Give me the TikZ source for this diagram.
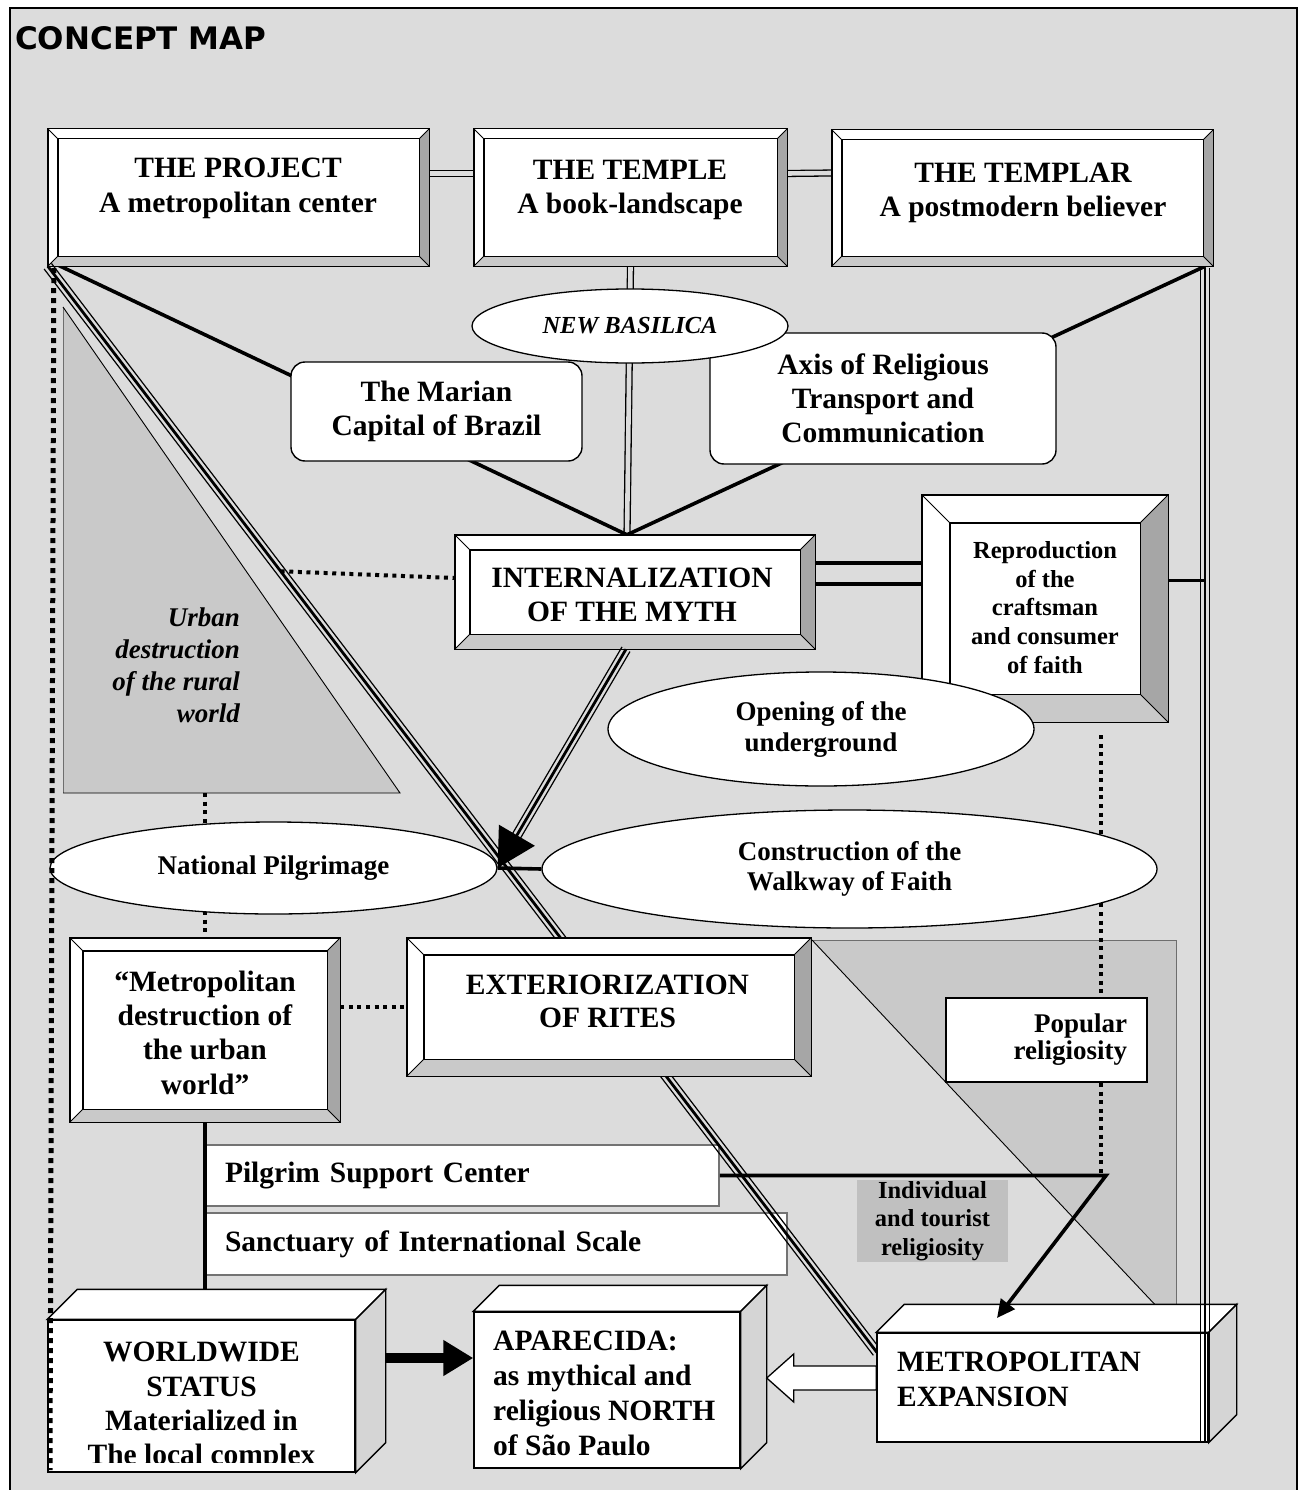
\documentclass[tikz,border=0pt]{standalone}
\usepackage{fontspec}
\setmainfont{Liberation Serif}
\newfontfamily\headfont{DejaVu Sans}
\usetikzlibrary{calc,arrows.meta,shapes.geometric}

\definecolor{bggray}{RGB}{220,220,220}
\definecolor{shadegray}{RGB}{201,201,201}
\definecolor{bevdark}{RGB}{166,166,166}
\definecolor{bevlight}{RGB}{201,201,201}
\definecolor{sidegray}{RGB}{213,213,213}
\definecolor{tagray}{RGB}{192,192,192}
\definecolor{edgegray}{RGB}{110,110,110}

\pgfdeclarelayer{bg}
\pgfdeclarelayer{under}
\pgfsetlayers{bg,under,main}

% bevelled frame round the rectangular node #1, bevel width #2
\newcommand\bevelframe[2]{%
  \fill[bevdark] (#1.north east) -- (#1.south east) -- ++(-#2,-#2) -- ($(#1.north east)+(-#2,#2)$) -- cycle;
  \fill[bevlight] (#1.south west) -- (#1.south east) -- ++(-#2,-#2) -- ($(#1.south west)+(#2,-#2)$) -- cycle;
  \draw[frameline] ($(#1.north west)+(#2,#2)$) rectangle ($(#1.south east)+(-#2,-#2)$);
  \draw[cornerline] (#1.north west) -- ++(#2,#2) (#1.north east) -- ++(-#2,#2)
        (#1.south west) -- ++(#2,-#2) (#1.south east) -- ++(-#2,-#2);
  \draw[frameline] (#1.north west) rectangle (#1.south east);}

% top and side faces of a block whose front face is node #1, depth #2
\newcommand\blockfaces[2]{%
  \filldraw[fill=white, frameline] (#1.north west) -- ++(#2,-#2) -- ($(#1.north east)+(#2,-#2)$) -- (#1.north east) -- cycle;
  \filldraw[fill=sidegray, frameline] (#1.north east) -- ++(#2,-#2) -- ($(#1.south east)+(#2,-#2)$) -- (#1.south east) -- cycle;}

% thin-thick-thin connector from #2 to #3
\newcommand\triline[3][]{%
  \draw[line width=1.2pt,#1] ($(#2)!4.6pt!90:(#3)$) -- ($(#3)!4.6pt!-90:(#2)$);
  \draw[line width=1.2pt,#1] ($(#2)!4.6pt!-90:(#3)$) -- ($(#3)!4.6pt!90:(#2)$);
  \draw[line width=2.8pt] (#2) -- (#3);}

\begin{document}
\begin{tikzpicture}[x=1pt, y=-1pt,
  frameline/.style={line width=1.4pt},
  cornerline/.style={line width=0.9pt},
  bevelbox/.style={rectangle, fill=white, inner sep=0pt},
  frontbox/.style={rectangle, fill=white, draw, line width=1.4pt, inner sep=0pt},
  plainbox/.style={rectangle, fill=white, draw, line width=1.3pt, inner ysep=0pt, inner xsep=20pt},
  softbox/.style={rectangle, rounded corners=14pt, fill=white, draw, line width=1.4pt, inner sep=0pt, align=center, font=\bfseries\fontsize{29.5}{34}\selectfont},
  oval/.style={ellipse, fill=white, draw, line width=1.3pt, inner sep=0pt, align=center, font=\bfseries\fontsize{27}{31}\selectfont},
  boxtext/.style={inner sep=0pt, align=center, font=\bfseries\fontsize{29.5}{34.5}\selectfont},
  link/.style={line width=3.6pt},
  twin/.style={double=bggray, double distance=4.6pt, line width=1.3pt},
  dotline/.style={line width=4pt, dash pattern=on 4pt off 4.6pt},
]
\useasboundingbox (0,0) rectangle (1299,1490);

% page, frame and shaded wedges
\begin{pgfonlayer}{bg}
  \fill[white] (0,0) rectangle (1299,1490);
  \fill[bggray] (10,8) rectangle (1297,1490);
  \draw[line width=1.6pt] (10,1490) -- (10,8) -- (1297,8) -- (1297,1490);
  \fill[shadegray] (63,307) -- (63,793) -- (400,793) -- cycle;
  \draw[line width=0.9pt, edgegray] (63,307) -- (63,793);
  \draw[line width=0.9pt] (63,793) -- (400,793) -- (63,307);
  \fill[shadegray] (812,940) -- (1176,940) -- (1176,1327) -- cycle;
  \draw[line width=0.9pt, edgegray] (812,940) -- (1176,940) -- (1176,1327);
  \draw[line width=0.9pt] (812,940) -- (1176,1327);
\end{pgfonlayer}

\node[anchor=base west, inner sep=0pt, font=\headfont\bfseries\fontsize{31}{36}\selectfont] (title) at (15,50) {CONCEPT MAP};

% top row
\node[bevelbox, minimum width=381pt, minimum height=137pt] (project) at (238.5,197.5) {};
\bevelframe{project}{10}
\node[boxtext] (project-t) at (238,188.5) {THE PROJECT\\A metropolitan center};

\node[bevelbox, minimum width=313pt, minimum height=137pt] (temple) at (630.5,197.5) {};
\bevelframe{temple}{10}
\node[boxtext] (temple-t) at (630,190) {THE TEMPLE\\A book-landscape};

\node[bevelbox, minimum width=381pt, minimum height=136pt] (templar) at (1022.5,198) {};
\bevelframe{templar}{10}
\node[boxtext] (templar-t) at (1023,193) {THE TEMPLAR\\A postmodern believer};

% internalization
\node[bevelbox, minimum width=360pt, minimum height=114pt] (myth) at (635,592) {};
\bevelframe{myth}{15}
\node[boxtext] (myth-t) at (632,595) {INTERNALIZATION\\OF THE MYTH};

\coordinate (apex) at ($(myth.north)+(-8,0)$);
\coordinate (project-corner) at ($(project.south west)+(2,-5)$);
\coordinate (templar-corner) at ($(templar.south east)+(-8,0)$);
\begin{pgfonlayer}{under}
  \draw[twin] ($(project.east)+(0,-24)$) -- ($(temple.west)+(0,-24)$);
  \draw[twin] ($(temple.east)+(0,-24)$) -- ($(templar.west)+(0,-25)$);
  \draw[twin] (temple.south) -- (apex);
  \draw[link] (project-corner) -- (apex);
  \draw[link] (templar-corner) -- (apex);
\end{pgfonlayer}

\node[softbox, minimum width=291pt, minimum height=99pt] (marian) at (436.5,411.5) {The Marian\\Capital of Brazil};
\node[softbox, minimum width=346pt, minimum height=131pt] (axis) at (883,398.5) {Axis of Religious\\Transport and\\Communication};
\node[oval, minimum width=316pt, minimum height=74pt, font=\bfseries\itshape\fontsize{24.5}{28}\selectfont] (basilica) at (630,326) {NEW BASILICA};

% reproduction
\node[bevelbox, minimum width=246pt, minimum height=227pt] (repro) at (1045,608.5) {};
\bevelframe{repro}{28}
\node[boxtext, font=\bfseries\fontsize{24.5}{28.75}\selectfont] (repro-t) at (1045,607.5) {Reproduction\\of the\\craftsman\\and consumer\\of faith};

\coordinate (rtop) at (1205,268);
\coordinate (rbot) at (1205,1442);
\coordinate (m1) at ($(myth.east)+(0,-29)$);
\coordinate (m2) at ($(myth.east)+(0,-8)$);
\coordinate (r1) at ($(repro.east)+(0,-28)$);
\begin{pgfonlayer}{under}
  \draw[link] (m1) -- (m1 -| repro.west);
  \draw[link] (m2) -- (m2 -| repro.west);
  \draw[link] (r1) -- (r1 -| rtop);
\end{pgfonlayer}

\node[oval, minimum width=426pt, minimum height=114pt] (opening) at (821,729) {Opening of the\\underground};

% middle band
\node[oval, minimum width=447pt, minimum height=92pt] (pilgrimage) at (273.5,868) {National Pilgrimage};
\node[oval, minimum width=615pt, minimum height=118pt, font=\bfseries\fontsize{27}{30.5}\selectfont] (walkway) at (849.5,869) {Construction of the\\Walkway of Faith};

\node[inner sep=0pt, anchor=east, align=right, font=\bfseries\itshape\fontsize{27}{32}\selectfont] (rural-t) at (240,665.5) {Urban\\destruction\\of the rural\\world};

% lower boxes
\node[bevelbox, minimum width=270pt, minimum height=184pt] (metro) at (205,1030) {};
\bevelframe{metro}{13}
\node[boxtext, font=\bfseries\fontsize{29.5}{34.3}\selectfont] (metro-t) at (205,1032.5) {“Metropolitan\\destruction of\\the urban\\world”};

\node[plainbox, draw=black!55, line width=1.5pt, minimum height=61pt, text width=474pt, align=left, font=\bfseries\fontsize{29.5}{34.5}\selectfont] (support) at (462,1175.5) {Pilgrim Support Center};
\node[plainbox, draw=black!55, line width=1.5pt, minimum height=62pt, text width=542pt, align=left, font=\bfseries\fontsize{29.5}{34.5}\selectfont] (sanctuary) at (496,1244) {Sanctuary of International Scale};
\node[plainbox, minimum height=84pt, text width=161pt, align=right, font=\bfseries\fontsize{27}{27}\selectfont] (popular) at (1046.5,1040) {Popular\\religiosity};
\node[rectangle, fill=tagray, inner sep=0pt, minimum width=151pt, minimum height=82pt, align=center, font=\bfseries\fontsize{24.5}{28.5}\selectfont] (individual) at (932.5,1221) {Individual\\and tourist\\religiosity};

% dotted links
\coordinate (wedge-foot) at (205,793);
\coordinate (rd1) at ($(repro.south)+(56,13)$);
\coordinate (junction) at (1106,1176);
\begin{pgfonlayer}{under}
  \draw[dotline] (wedge-foot) -- (wedge-foot |- pilgrimage.center);
  \draw[dotline] (metro.north |- pilgrimage.center) -- (metro.north);
  \draw[dotline] (rd1) -- (rd1 |- walkway.center);
  \draw[dotline] (rd1 |- walkway.center) -- (rd1 |- popular.center);
  \draw[dotline] (rd1 |- popular.center) -- (rd1 |- junction);
\end{pgfonlayer}

\draw[link] (pilgrimage.east) -- (walkway.west);

% long diagonal towards the expansion block
\coordinate (diagend) at (877,1352.5);
\triline{project.south west}{diagend}

\node[bevelbox, minimum width=404pt, minimum height=138pt] (exter) at (609,1007) {};
\bevelframe{exter}{17}
\node[boxtext, font=\bfseries\fontsize{29.5}{33}\selectfont] (exter-t) at (607.5,1001.5) {EXTERIORIZATION\\OF RITES};

\coordinate (md) at ($(myth.west)+(0,-14)$);
\coordinate (mdx) at (intersection of project.south west--diagend and md--myth.east);
\begin{pgfonlayer}{under}
  \draw[dotline] (exter.west -| metro.east) -- (exter.west);
  \draw[dotline] (mdx) -- (md);
\end{pgfonlayer}

% arrow from the myth down to the pilgrimage
\coordinate (mythfoot) at ($(myth.south)+(-9,0)$);
\draw[line width=1.2pt, shorten >=30pt] ($(mythfoot)!4.6pt!90:(pilgrimage.east)$) -- ($(pilgrimage.east)!4.6pt!-90:(mythfoot)$);
\draw[line width=1.2pt, shorten >=30pt] ($(mythfoot)!4.6pt!-90:(pilgrimage.east)$) -- ($(pilgrimage.east)!4.6pt!90:(mythfoot)$);
\draw[line width=2.8pt, -{Triangle[length=38pt,width=41pt]}] (mythfoot) -- (pilgrimage.east);

% blocks at the bottom
\node[frontbox, minimum width=307pt, minimum height=152pt] (world) at (201.5,1396) {};
\blockfaces{world}{30}
\begin{scope}
  \clip (40,1300) rectangle (360,1462);
  \node[boxtext, font=\bfseries\fontsize{29.5}{34.3}\selectfont] (world-t) at (201.5,1406.7) {WORLDWIDE\\STATUS\\Materialized in\\The local complex};
\end{scope}

\node[frontbox, minimum width=266pt, minimum height=156pt] (apar) at (607,1390) {};
\blockfaces{apar}{26}
\node[boxtext, align=left, anchor=west, font=\bfseries\fontsize{29.5}{35}\selectfont] (apar-t) at (493,1393.5) {APARECIDA:\\as mythical and\\religious NORTH\\of São Paulo};

\node[frontbox, minimum width=331pt, minimum height=109pt] (expan) at (1042.5,1387.5) {};
\blockfaces{expan}{28}
\node[boxtext, align=left, anchor=west, font=\bfseries\fontsize{29.5}{35}\selectfont] (expan-t) at (897,1379.5) {METROPOLITAN\\EXPANSION};

\coordinate (wtop) at ($(world.north)+(30,-30)$);
\draw[link] (metro.south) -- (metro.south |- wtop);

\coordinate (expan-hit) at (997,1318);
\draw[link, line join=miter, -{Triangle[length=18pt,width=17pt]}] (support.east) -- (support.east -| junction) -- (expan-hit);

\triline{rtop}{rbot}
\draw[dotline, line width=5pt, dash pattern=on 5pt off 5pt] ($(project.south west)+(6,2)$) -- (50,1470);

\coordinate (wa) at ($(world.east)+(30,-38)$);
\draw[line width=10pt, -{Triangle[length=30pt,width=34pt]}] (wa) -- (wa -| apar.west);

\coordinate (ba) at ($(expan.west)+(0,-9.5)$);
\coordinate (bt) at ($(apar.east)+(26,0)$);
\draw[line width=1.3pt, fill=white, line join=miter] (bt |- ba) -- ++(27,-24) -- ++(0,12) -- ($(ba)+(0,-12)$) -- ($(ba)+(0,12)$) -- ($(bt |- ba)+(27,12)$) -- ++(0,12) -- cycle;
\end{tikzpicture}
\end{document}
